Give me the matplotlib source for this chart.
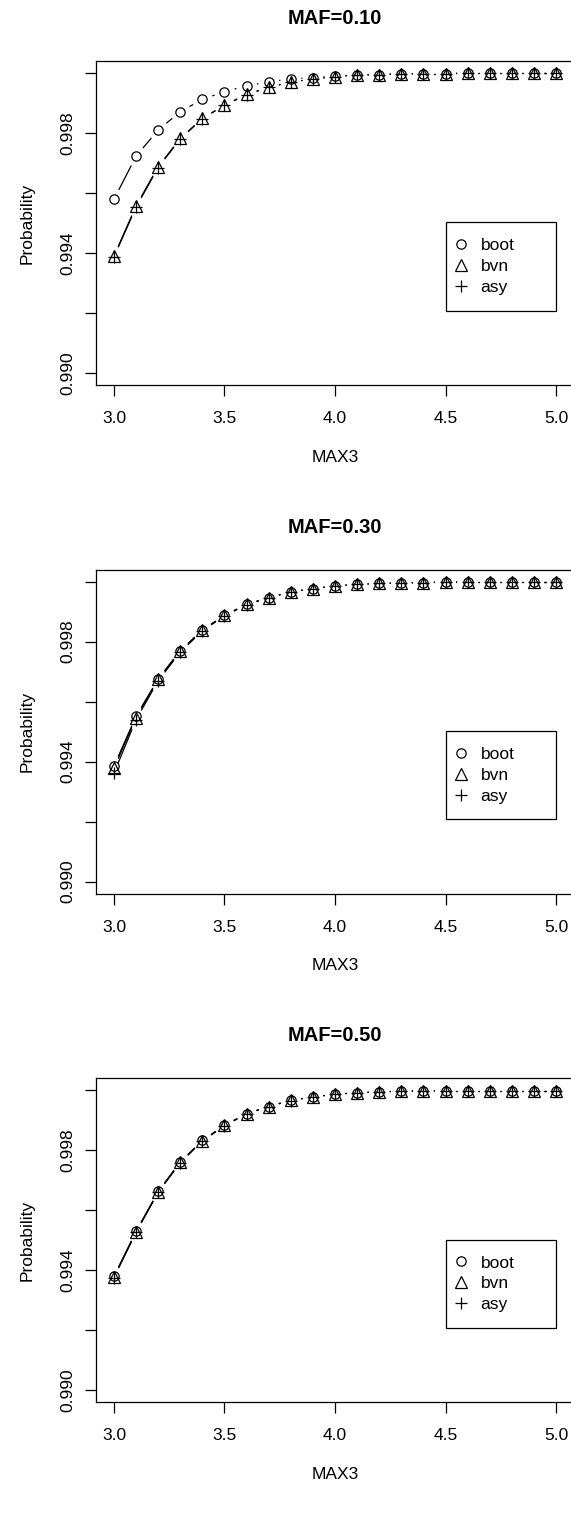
#!/usr/bin/env python

import numpy as np
import matplotlib
matplotlib.use("Agg")
import matplotlib.pyplot as plt
from matplotlib.lines import Line2D

plt.rcParams['font.family'] = ['Liberation Sans', 'DejaVu Sans']

max3 = [3.0, 3.1, 3.2, 3.3, 3.4, 3.5, 3.6, 3.7, 3.8, 3.9, 4.0,
        4.1, 4.2, 4.3, 4.4, 4.5, 4.6, 4.7, 4.8, 4.9, 5.0]

titles = ['MAF=0.10', 'MAF=0.30', 'MAF=0.50']

boot_10 = [0.99579, 0.99723, 0.99810, 0.99871, 0.99912, 0.99938, 0.99957,
           0.99971, 0.99980, 0.99985, 0.99990, 0.99993, 0.99995, 0.99997,
           0.99998, 0.99998, 0.99999, 0.99999, 0.99999, 0.99999, 0.99999]
bvn_10 = [0.99390, 0.99557, 0.99688, 0.99782, 0.99849, 0.99893, 0.99929,
          0.99952, 0.99971, 0.99979, 0.99988, 0.99993, 0.99995, 0.99997,
          0.99998, 0.99998, 0.99999, 0.99999, 0.99999, 0.99999, 0.99999]
asy_10 = [0.99387, 0.99553, 0.99685, 0.99780, 0.99848, 0.99892, 0.99928,
          0.99952, 0.99970, 0.99979, 0.99988, 0.99993, 0.99995, 0.99997,
          0.99998, 0.99998, 0.99999, 0.99999, 0.99999, 0.99999, 0.99999]

boot_30 = [0.99385, 0.99552, 0.99676, 0.99770, 0.99839, 0.99888, 0.99924,
           0.99947, 0.99966, 0.99977, 0.99986, 0.99991, 0.99994, 0.99996,
           0.99997, 0.99998, 0.99999, 0.99999, 0.99999, 0.99999, 0.99999]
bvn_30 = [0.99378, 0.99547, 0.99674, 0.99769, 0.99838, 0.99888, 0.99924,
          0.99947, 0.99966, 0.99977, 0.99986, 0.99991, 0.99994, 0.99996,
          0.99997, 0.99998, 0.99999, 0.99999, 0.99999, 0.99999, 0.99999]
asy_30 = [0.99362, 0.99540, 0.99670, 0.99765, 0.99836, 0.99886, 0.99923,
          0.99947, 0.99966, 0.99977, 0.99986, 0.99991, 0.99994, 0.99996,
          0.99997, 0.99998, 0.99999, 0.99999, 0.99999, 0.99999, 0.99999]

boot_50 = [0.99380, 0.99530, 0.99663, 0.99762, 0.99833, 0.99883, 0.99922,
           0.99946, 0.99967, 0.99978, 0.99987, 0.99992, 0.99995, 0.99997,
           0.99998, 0.99999, 0.99999, 0.99999, 0.99999, 0.99999, 0.99999]
bvn_50 = [0.99378, 0.99528, 0.99661, 0.99760, 0.99832, 0.99883, 0.99922,
          0.99946, 0.99967, 0.99978, 0.99987, 0.99992, 0.99995, 0.99997,
          0.99998, 0.99999, 0.99999, 0.99999, 0.99999, 0.99999, 0.99999]
asy_50 = [0.99376, 0.99527, 0.99660, 0.99759, 0.99831, 0.99882, 0.99921,
          0.99946, 0.99966, 0.99978, 0.99987, 0.99992, 0.99995, 0.99997,
          0.99998, 0.99999, 0.99999, 0.99999, 0.99999, 0.99999, 0.99999]

panels = [(boot_10, bvn_10, asy_10), (boot_30, bvn_30, asy_30),
          (boot_50, bvn_50, asy_50)]

W, H = 571, 1526
GAP = 10.5  # px left open around each point, like R's type="b"
LW = 0.9
FS = 12.5
MARKERS = [('o', 6.7), ('^', 8.0), ('+', 8.5)]


def draw_b(ax, x, y, marker, ms):
    # segments between points, shortened at both ends
    xy = ax.transData.transform(np.column_stack([x, y]))
    inv = ax.transData.inverted()
    for p, q in zip(xy[:-1], xy[1:]):
        d = q - p
        L = np.hypot(d[0], d[1])
        if L <= 2 * GAP:
            continue
        u = d / L
        seg = inv.transform(np.array([p + u * GAP, q - u * GAP]))
        ax.plot(seg[:, 0], seg[:, 1], color='black', lw=LW,
                solid_capstyle='butt')
    ax.plot(x, y, ls='none', marker=marker, ms=ms, mfc='none',
            mec='black', mew=LW)


fig = plt.figure(figsize=(W / 100, H / 100), dpi=100)
box_h = 324
tops = [61, 61 + H / 3, 61 + 2 * H / 3]

for top, title, series in zip(tops, titles, panels):
    ax = fig.add_axes([96.3 / W, (H - top - box_h) / H, 477.4 / W, box_h / H])
    ax.set_xlim(2.92, 5.08)
    ax.set_ylim(0.9896, 1.0004)

    for vals, (m, s) in zip(series, MARKERS):
        draw_b(ax, max3, vals, m, s)

    ax.set_xticks([3.0, 3.5, 4.0, 4.5, 5.0])
    ax.set_xticklabels(['3.0', '3.5', '4.0', '4.5', '5.0'])
    ax.set_yticks([0.990, 0.992, 0.994, 0.996, 0.998, 1.000])
    ax.set_yticklabels(['0.990', '', '0.994', '', '0.998', ''],
                       rotation=90, va='center')
    ax.tick_params(axis='both', direction='out', length=7.6, width=LW,
                   labelsize=FS)
    ax.tick_params(axis='x', pad=11.0)
    ax.tick_params(axis='y', pad=7.3)
    for s in ax.spines.values():
        s.set_linewidth(LW)

    ax.set_title(title, fontsize=14.5, fontweight='bold', pad=26.6)
    ax.set_xlabel('MAX3', fontsize=FS)
    ax.xaxis.set_label_coords(0.5, -0.2)
    ax.set_ylabel('Probability', fontsize=FS)
    ax.yaxis.set_label_coords(-0.13, 0.5)

    handles = [Line2D([], [], ls='none', marker=m, ms=s, mfc='none',
                      mec='black', mew=LW) for m, s in MARKERS]
    leg = ax.legend(handles, ['boot', 'bvn', 'asy'], loc='upper left',
                    bbox_to_anchor=(4.5, 0.99197, 0.5, 0.00305),
                    bbox_transform=ax.transData, mode='expand',
                    borderaxespad=0, fontsize=FS, frameon=True,
                    fancybox=False, framealpha=1, edgecolor='black',
                    borderpad=0.9, labelspacing=0.33, handlelength=0.0,
                    handletextpad=1.12, numpoints=1)
    leg.get_frame().set_linewidth(LW)

fig.savefig('out.png', dpi=100)
